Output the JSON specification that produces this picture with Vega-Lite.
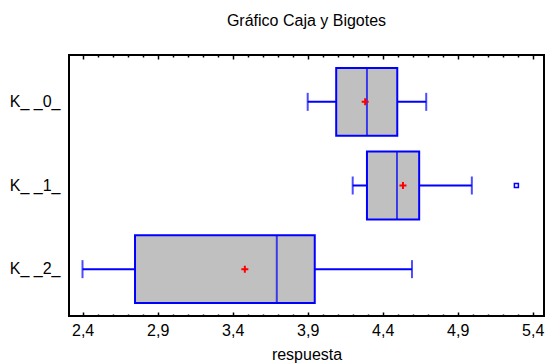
{
  "$schema": "https://vega.github.io/schema/vega-lite/v6.json",
  "width": 475,
  "height": 261,
  "autosize": {"type": "none"},
  "padding": {"left": 69, "top": 55, "right": 2, "bottom": 48},
  "title": {"text": "Gráfico Caja y Bigotes", "fontSize": 16, "font": "Liberation Sans", "fontWeight": "normal", "color": "black", "anchor": "middle", "offset": 25},
  "datasets": {
    "cajas": [
      {"grupo": "K_ _0_", "min": 3.9, "q1": 4.09, "mediana": 4.295, "q3": 4.497, "max": 4.69, "media": 4.283},
      {"grupo": "K_ _1_", "min": 4.2, "q1": 4.295, "mediana": 4.495, "q3": 4.643, "max": 4.994, "media": 4.535},
      {"grupo": "K_ _2_", "min": 2.399, "q1": 2.749, "mediana": 3.694, "q3": 3.947, "max": 4.595, "media": 3.481}
    ],
    "atipicos": [
      {"grupo": "K_ _1_", "valor": 5.291}
    ]
  },
  "data": {"name": "cajas"},
  "encoding": {
    "y": {"field": "grupo", "type": "nominal", "title": null,
      "scale": {"domain": ["K_ _0_", "K_ _1_", "K_ _2_"], "paddingInner": 0.19, "paddingOuter": 0.155}}
  },
  "layer": [
    {
      "mark": {"type": "rule", "color": "#0000FF", "strokeWidth": 2},
      "encoding": {
        "x": {"field": "min", "type": "quantitative", "title": "respuesta",
          "scale": {"domain": [2.309, 5.475], "nice": false, "zero": false},
          "axis": {"orient": "bottom", "values": [2.4, 2.9, 3.4, 3.9, 4.4, 4.9, 5.4], "labelExpr": "replace(format(datum.value, '.1f'), '.', ',')", "tickSize": -4, "tickWidth": 1.5, "labelPadding": 10, "domain": false, "grid": false, "titlePadding": 8}},
        "x2": {"field": "max"}
      }
    },
    {
      "mark": {"type": "bar", "fill": "#C0C0C0", "stroke": "#0000FF", "strokeWidth": 2},
      "encoding": {
        "x": {"field": "q1", "type": "quantitative",
          "axis": {"orient": "bottom", "values": [2.5, 2.6, 2.7, 2.8, 3.0, 3.1, 3.2, 3.3, 3.5, 3.6, 3.7, 3.8, 4.0, 4.1, 4.2, 4.3, 4.5, 4.6, 4.7, 4.8, 5.0, 5.1, 5.2, 5.3], "labels": false, "tickSize": -2, "tickWidth": 1.5, "domain": false, "grid": false, "title": null}},
        "x2": {"field": "q3"}
      }
    },
    {
      "mark": {"type": "tick", "orient": "vertical", "color": "#0000FF", "thickness": 2, "size": 68},
      "encoding": {
        "x": {"field": "mediana", "type": "quantitative",
          "axis": {"orient": "top", "values": [2.4, 2.9, 3.4, 3.9, 4.4, 4.9, 5.4], "labels": false, "tickSize": -4, "tickWidth": 1.5, "domain": false, "grid": false, "title": null}}
      }
    },
    {
      "mark": {"type": "tick", "orient": "vertical", "color": "#0000FF", "thickness": 2, "size": 18},
      "encoding": {
        "x": {"field": "min", "type": "quantitative",
          "axis": {"orient": "top", "values": [2.5, 2.6, 2.7, 2.8, 3.0, 3.1, 3.2, 3.3, 3.5, 3.6, 3.7, 3.8, 4.0, 4.1, 4.2, 4.3, 4.5, 4.6, 4.7, 4.8, 5.0, 5.1, 5.2, 5.3], "labels": false, "tickSize": -2, "tickWidth": 1.5, "domain": false, "grid": false, "title": null}}
      }
    },
    {
      "mark": {"type": "tick", "orient": "vertical", "color": "#0000FF", "thickness": 2, "size": 18},
      "encoding": {
        "x": {"field": "max", "type": "quantitative", "axis": null}
      }
    },
    {
      "mark": {"type": "point", "shape": "M-1,0H1M0,-1V1", "filled": false, "color": "#FF0000", "size": 49, "strokeWidth": 2, "opacity": 1},
      "encoding": {
        "x": {"field": "media", "type": "quantitative", "axis": null}
      }
    },
    {
      "data": {"name": "atipicos"},
      "mark": {"type": "point", "shape": "square", "filled": false, "color": "#0000FF", "size": 16, "strokeWidth": 1.5, "opacity": 1},
      "encoding": {
        "x": {"field": "valor", "type": "quantitative", "axis": null}
      }
    }
  ],
  "resolve": {"axis": {"x": "independent"}},
  "config": {
    "background": "white",
    "view": {"stroke": "black", "strokeWidth": 2},
    "font": "Liberation Sans",
    "axis": {"labelFont": "Liberation Sans", "labelFontSize": 16, "labelColor": "black", "titleFont": "Liberation Sans", "titleFontSize": 16, "titleFontWeight": "normal", "titleColor": "black", "tickColor": "black"},
    "axisY": {"ticks": false, "domain": false, "grid": false, "labelPadding": 9}
  }
}
